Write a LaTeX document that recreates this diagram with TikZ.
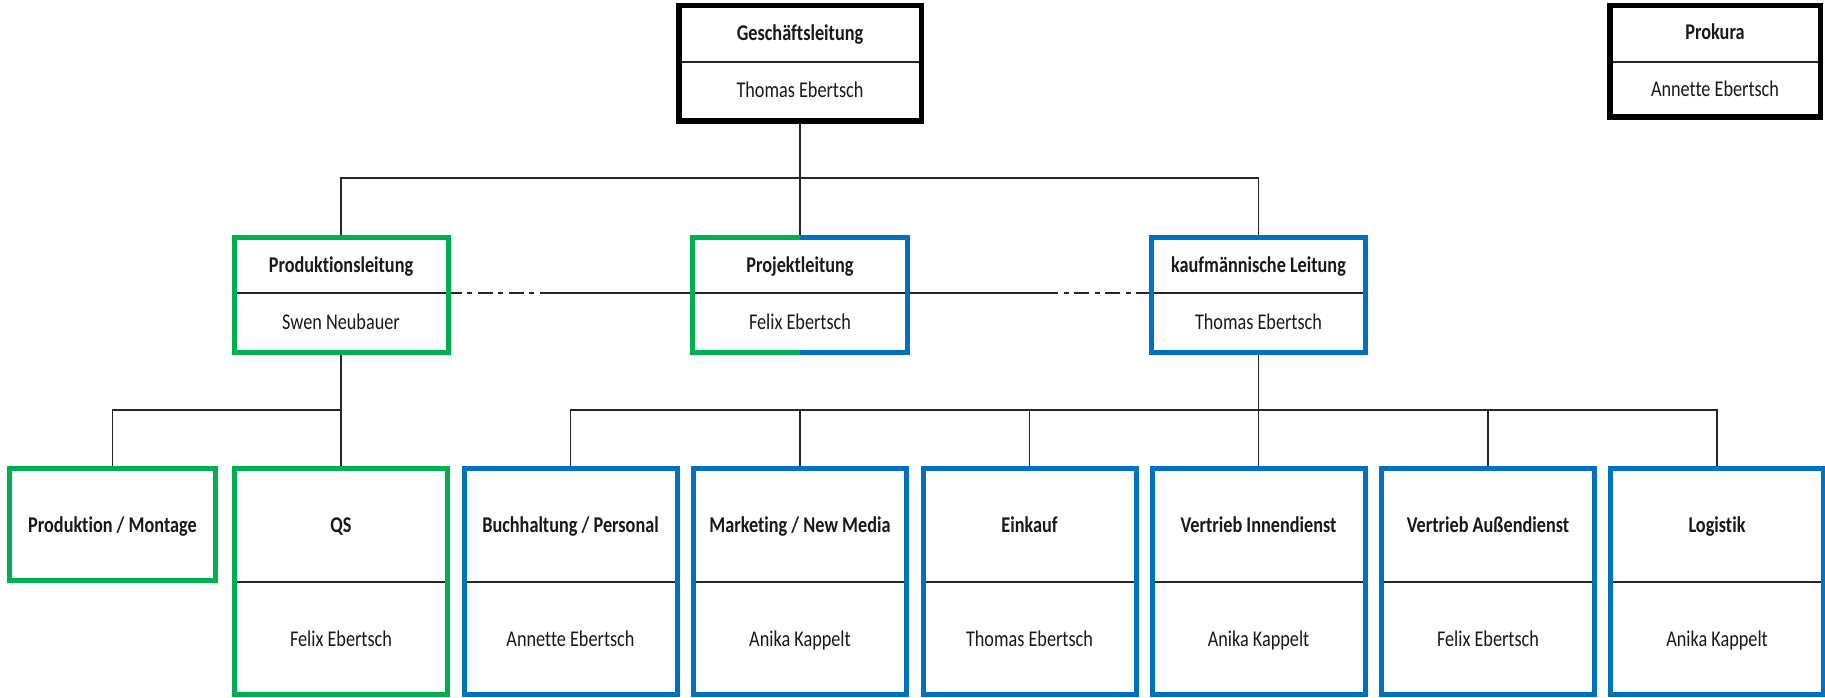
\documentclass[tikz,border=0pt]{standalone}
\usepackage{fontspec}
\setmainfont{Carlito}[FakeStretch=0.81, Ligatures=NoCommon]
\usetikzlibrary{calc}
\definecolor{bgreen}{HTML}{00B050}
\definecolor{bblue}{HTML}{0070C0}
\definecolor{linegray}{HTML}{262626}
\pgfdeclarelayer{bg}
\pgfsetlayers{bg,main}

\newcommand\lowbox[5]{%
  \node[#3, minimum width=213pt, minimum height=226pt] (#1) at (#2,581.5) {};
  \node[title] (#1-t) at (#2,532.5) {#4};
  \node[person] (#1-p) at (#2,646.5) {#5};
  \begin{pgfonlayer}{bg}\draw[divider] (#1.west |- 0,582) -- (#1.east |- 0,582);\end{pgfonlayer}
}
\newcommand\midbox[5]{%
  \node[#3, minimum width=214pt, minimum height=115pt] (#1) at (#2,295) {};
  \node[title] (#1-t) at (#2,272.5) {#4};
  \node[person] (#1-p) at (#2,329) {#5};
  \begin{pgfonlayer}{bg}\draw[divider] (#1.west |- 0,293) -- (#1.east |- 0,293);\end{pgfonlayer}
}

\begin{document}
\begin{tikzpicture}[x=1pt,y=-1pt,
  box/.style={draw, line width=5pt, inner sep=0pt, line join=miter},
  greenbox/.style={box, draw=bgreen},
  bluebox/.style={box, draw=bblue},
  nobox/.style={inner sep=0pt},
  blackbox/.style={box, draw=black, line width=5.5pt},
  title/.style={font=\fontsize{22.5}{24}\selectfont\bfseries, inner sep=0pt, anchor=base, text=black!90},
  person/.style={font=\fontsize{22.5}{24}\selectfont, inner sep=0pt, anchor=base, text=black!90},
  divider/.style={line width=1.5pt, draw=linegray},
  conn/.style={line width=1.5pt, draw=linegray},
  dashdot/.style={conn, dash pattern=on 15pt off 6pt on 5pt off 5pt},
]
\useasboundingbox (0,0) rectangle (1825,698);
\begin{pgfonlayer}{bg}
  \fill[white] (0,0) rectangle (1825,698);
\end{pgfonlayer}

% top row
\node[blackbox, minimum width=242.5pt, minimum height=115.5pt] (gl) at (800,63.5) {};
\node[title] (gl-t) at (800,41) {Geschäftsleitung};
\node[person] (gl-p) at (800,98) {Thomas Ebertsch};
\node[blackbox, minimum width=210.5pt, minimum height=111.5pt] (pk) at (1715,61.5) {};
\node[title] (pk-t) at (1715,40) {Prokura};
\node[person] (pk-p) at (1715,97) {Annette Ebertsch};

% middle row
\midbox{pl}{341}{greenbox}{Produktionsleitung}{Swen Neubauer}
\midbox{prj}{800}{nobox}{Projektleitung}{Felix Ebertsch}
\midbox{kl}{1258.5}{bluebox}{kaufmännische Leitung}{Thomas Ebertsch}
\draw[bgreen, line width=5pt] (prj.north) -- (prj.north west) -- (prj.south west) -- (prj.south);
\draw[bblue, line width=5pt] (prj.north) -- (prj.north east) -- (prj.south east) -- (prj.south);

% bottom row
\node[greenbox, minimum width=206pt, minimum height=112pt] (pm) at (112.5,524.5) {};
\node[title] (pm-t) at (112.5,532.5) {Produktion / Montage};
\lowbox{qs}{341}{greenbox}{QS}{Felix Ebertsch}
\lowbox{bh}{570.5}{bluebox}{Buchhaltung / Personal}{Annette Ebertsch}
\lowbox{mk}{800}{bluebox}{Marketing / New Media}{Anika Kappelt}
\lowbox{ek}{1029.5}{bluebox}{Einkauf}{Thomas Ebertsch}
\lowbox{vi}{1258.5}{bluebox}{Vertrieb Innendienst}{Anika Kappelt}
\lowbox{va}{1488}{bluebox}{Vertrieb Außendienst}{Felix Ebertsch}
\lowbox{lo}{1717}{bluebox}{Logistik}{Anika Kappelt}

\begin{pgfonlayer}{bg}
  \draw[divider] (gl.west |- 0,62) -- (gl.east |- 0,62);
  \draw[divider] (pk.west |- 0,62) -- (pk.east |- 0,62);
  \coordinate (bus1) at (0,178);
  \coordinate (bus2) at (0,410);
  \draw[conn] (gl.south) -- (prj.north);
  \draw[conn] (pl.north) -- (pl.north |- bus1) -| (kl.north);
  % staff relations
  \coordinate (dl) at (555,293);
  \coordinate (dr) at (1043,293);
  \draw[conn] (dl) -- (prj.west |- dl);
  \draw[dashdot] (dl) -- (pl.east |- dl);
  \draw[conn] (prj.east |- dr) -- (dr);
  \draw[dashdot] (dr) -- (kl.west |- dr);
  % production branch
  \draw[conn] (pl.south) -- (qs.north);
  \draw[conn] (qs.north |- bus2) -| (pm.north);
  % commercial branch
  \draw[conn] (kl.south) -- (vi.north);
  \draw[conn] (bh.north) -- (bh.north |- bus2) -- (lo.north |- bus2) -- (lo.north);
  \foreach \n in {mk,ek,va} \draw[conn] (\n.north) -- (\n.north |- bus2);
\end{pgfonlayer}
\end{tikzpicture}
\end{document}
